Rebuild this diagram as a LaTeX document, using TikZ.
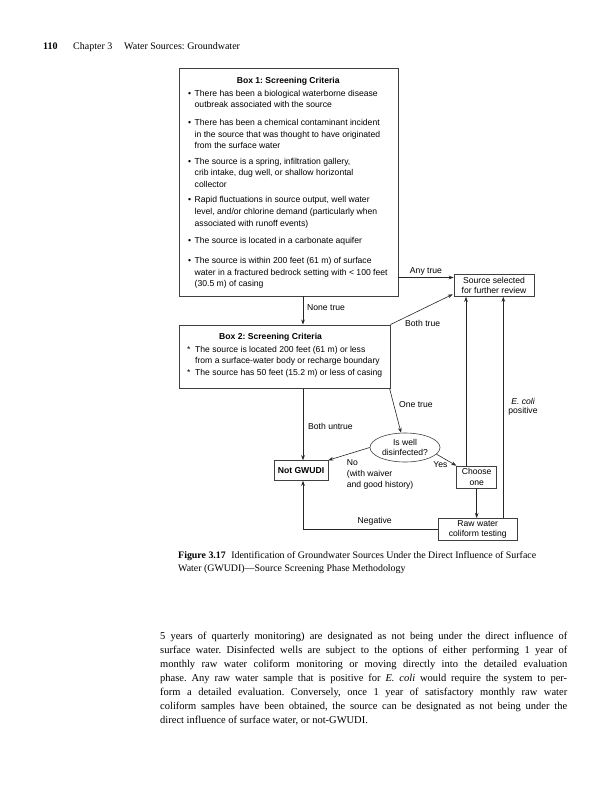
\documentclass[tikz,border=0pt]{standalone}
\usepackage{fontspec}
\setmainfont{Liberation Serif}
\newfontfamily\dsans{Liberation Sans}
\usetikzlibrary{arrows.meta,calc,shapes.geometric}
\frenchspacing
\begin{document}
\begin{tikzpicture}[x=1pt,y=-1pt,
  dtext/.style={font=\dsans\fontsize{8.6}{10.5}\selectfont, inner sep=0pt},
  dline/.style={dtext, anchor=base west},
  boxstyle/.style={draw=black!75, line width=0.6pt, inner sep=0pt, dtext, align=center},
  arr/.style={draw=black!85, line width=0.6pt, -{Stealth[length=5pt,width=3.6pt]}},
  lbl/.style={dtext, anchor=west},
  bodyline/.style={anchor=base west, inner sep=0pt, font=\fontsize{10.5}{13.9}\selectfont},
  capline/.style={anchor=base west, inner sep=0pt, font=\fontsize{9.9}{12}\selectfont},
  headtext/.style={anchor=base west, inner sep=0pt, font=\fontsize{10}{12}\selectfont}]
\useasboundingbox (0,0) rectangle (597,800);
\fill[white] (0,0) rectangle (597,800);

% header
\node[headtext] (pg) at (43,50) {\textbf{110}};
\node[headtext] (ch3) at (73,50) {Chapter 3};
\node[headtext] (ttl) at (124,50) {Water Sources: Groundwater};

% boxes
\node[boxstyle, anchor=north west, minimum width=218.5pt, minimum height=227.5pt] (box1) at (179,68) {};
\node[boxstyle, anchor=north west, minimum width=211pt, minimum height=63.5pt] (box2) at (179,324.5) {};
\node[boxstyle, minimum width=80pt, minimum height=22pt] (src) at (494,285.5) {Source selected\\for further review};
\node[boxstyle, minimum width=54pt, minimum height=20pt] (ng) at (301,470.5) {\bfseries Not GWUDI};
\node[boxstyle, ellipse, minimum width=70pt, minimum height=29pt] (ell) at (405,447.5) {Is well\\disinfected?};
\node[boxstyle, minimum width=40pt, minimum height=22pt] (ch) at (476.7,477) {Choose\\one};
\node[boxstyle, minimum width=79pt, minimum height=22.5pt] (raw) at (477.8,529.5) {Raw water\\coliform testing};

% box 1 text
\node[dtext, anchor=base] (t1) at (288.2,84) {\bfseries Box 1: Screening Criteria};
\node[dline] (d1) at (188,96.3) {\textbullet};
\node[dline] (l1a) at (194.5,96.3) {There has been a biological waterborne disease};
\node[dline] (l1b) at (194.5,107.9) {outbreak associated with the source};
\node[dline] (d2) at (188,125.5) {\textbullet};
\node[dline] (l2a) at (194.5,125.5) {There has been a chemical contaminant incident};
\node[dline] (l2b) at (194.5,137.1) {in the source that was thought to have originated};
\node[dline] (l2c) at (194.5,148.7) {from the surface water};
\node[dline] (d3) at (188,164) {\textbullet};
\node[dline] (l3a) at (194.5,164) {The source is a spring, infiltration gallery,};
\node[dline] (l3b) at (194.5,175.6) {crib intake, dug well, or shallow horizontal};
\node[dline] (l3c) at (194.5,187.2) {collector};
\node[dline] (d4) at (188,202.8) {\textbullet};
\node[dline] (l4a) at (194.5,202.8) {Rapid fluctuations in source output, well water};
\node[dline] (l4b) at (194.5,214.4) {level, and/or chlorine demand (particularly when};
\node[dline] (l4c) at (194.5,226) {associated with runoff events)};
\node[dline] (d5) at (188,243.3) {\textbullet};
\node[dline] (l5a) at (194.5,243.3) {The source is located in a carbonate aquifer};
\node[dline] (d6) at (188,263.5) {\textbullet};
\node[dline] (l6a) at (194.5,263.5) {The source is within 200 feet (61 m) of surface};
\node[dline] (l6b) at (194.5,275.1) {water in a fractured bedrock setting with < 100 feet};
\node[dline] (l6c) at (194.5,286.7) {(30.5 m) of casing};

% box 2 text
\node[dline] (t2) at (219,339.5) {\bfseries Box 2: Screening Criteria};
\node[dline] (e1) at (187,352.5) {*};
\node[dline] (m1a) at (195,352.5) {The source is located 200 feet (61 m) or less};
\node[dline] (m1b) at (195,363.5) {from a surface-water body or recharge boundary};
\node[dline] (e2) at (187,375) {*};
\node[dline] (m2a) at (195,375) {The source has 50 feet (15.2 m) or less of casing};

% helper coordinates
\coordinate (anyT) at ($(src.north west)+(0,3.3)$);
\coordinate (cx1) at (303,0);
\coordinate (cx2) at (466,0);
\coordinate (cx3) at (503.3,0);

% connectors
\draw[arr] (box1.east |- anyT) -- (anyT);
\draw[arr] (box1.south -| cx1) -- (box2.north -| cx1);
\draw[arr] (box2.north east) -- ($(src.south west)+(-1,-2.5)$);
\draw[arr] (box2.south -| cx1) -- (ng.north -| cx1);
\draw[arr] ($(box2.south east)+(-1,0)$) -- (ell.105);
\draw[arr] (ell.west) -- (ng.north east);
\draw[arr] (ell.-12) -- (ch.north west);
\draw[arr] (ch.south) -- (raw.north -| ch.south);
\draw[arr] (ch.north -| cx2) -- (src.south -| cx2);
\draw[arr] (raw.north -| cx3) -- (src.south -| cx3);
\draw[arr] (raw.west) -| (ng.south -| cx1);

% labels
\node[dtext] (la) at (426,271) {Any true};
\node[lbl] (lb) at (307,308) {None true};
\node[lbl] (lc) at (405,323) {Both true};
\node[lbl] (ld) at (399,405) {One true};
\node[lbl] (le) at (308,426) {Both untrue};
\node[dline] (lf1) at (346.7,465) {No};
\node[dline] (lf2) at (346.7,476.5) {(with waiver};
\node[dline] (lf3) at (346.7,487.5) {and good history)};
\node[dtext] (lg) at (440.5,465) {Yes};
\node[dtext] (lh) at (374.7,521) {Negative};
\node[dtext] (li1) at (523,401) {\itshape E. coli};
\node[dtext] (li2) at (523,411.5) {positive};

% caption
\node[capline] (cap1) at (178,558.5) {\textbf{Figure 3.17}\hspace{3pt} Identification of Groundwater Sources Under the Direct Influence of Surface};
\node[capline] (cap2) at (178,571) {Water (GWUDI)---Source Screening Phase Methodology};

% body text
\node[bodyline] (p1) at (160,639.7) {\makebox[407pt][s]{5 years of quarterly monitoring) are designated as not being under the direct influence of}};
\node[bodyline] (p2) at (160,653.6) {\makebox[407pt][s]{surface water. Disinfected wells are subject to the options of either performing 1 year of}};
\node[bodyline] (p3) at (160,667.5) {\makebox[407pt][s]{monthly raw water coliform monitoring or moving directly into the detailed evaluation}};
\node[bodyline] (p4) at (160,681.4) {\makebox[407pt][s]{phase. Any raw water sample that is positive for \textit{E. coli} would require the system to per-}};
\node[bodyline] (p5) at (160,695.3) {\makebox[407pt][s]{form a detailed evaluation. Conversely, once 1 year of satisfactory monthly raw water}};
\node[bodyline] (p6) at (160,709.2) {\makebox[407pt][s]{coliform samples have been obtained, the source can be designated as not being under the}};
\node[bodyline] (p7) at (160,723.1) {direct influence of surface water, or not-GWUDI.};
\end{tikzpicture}
\end{document}
